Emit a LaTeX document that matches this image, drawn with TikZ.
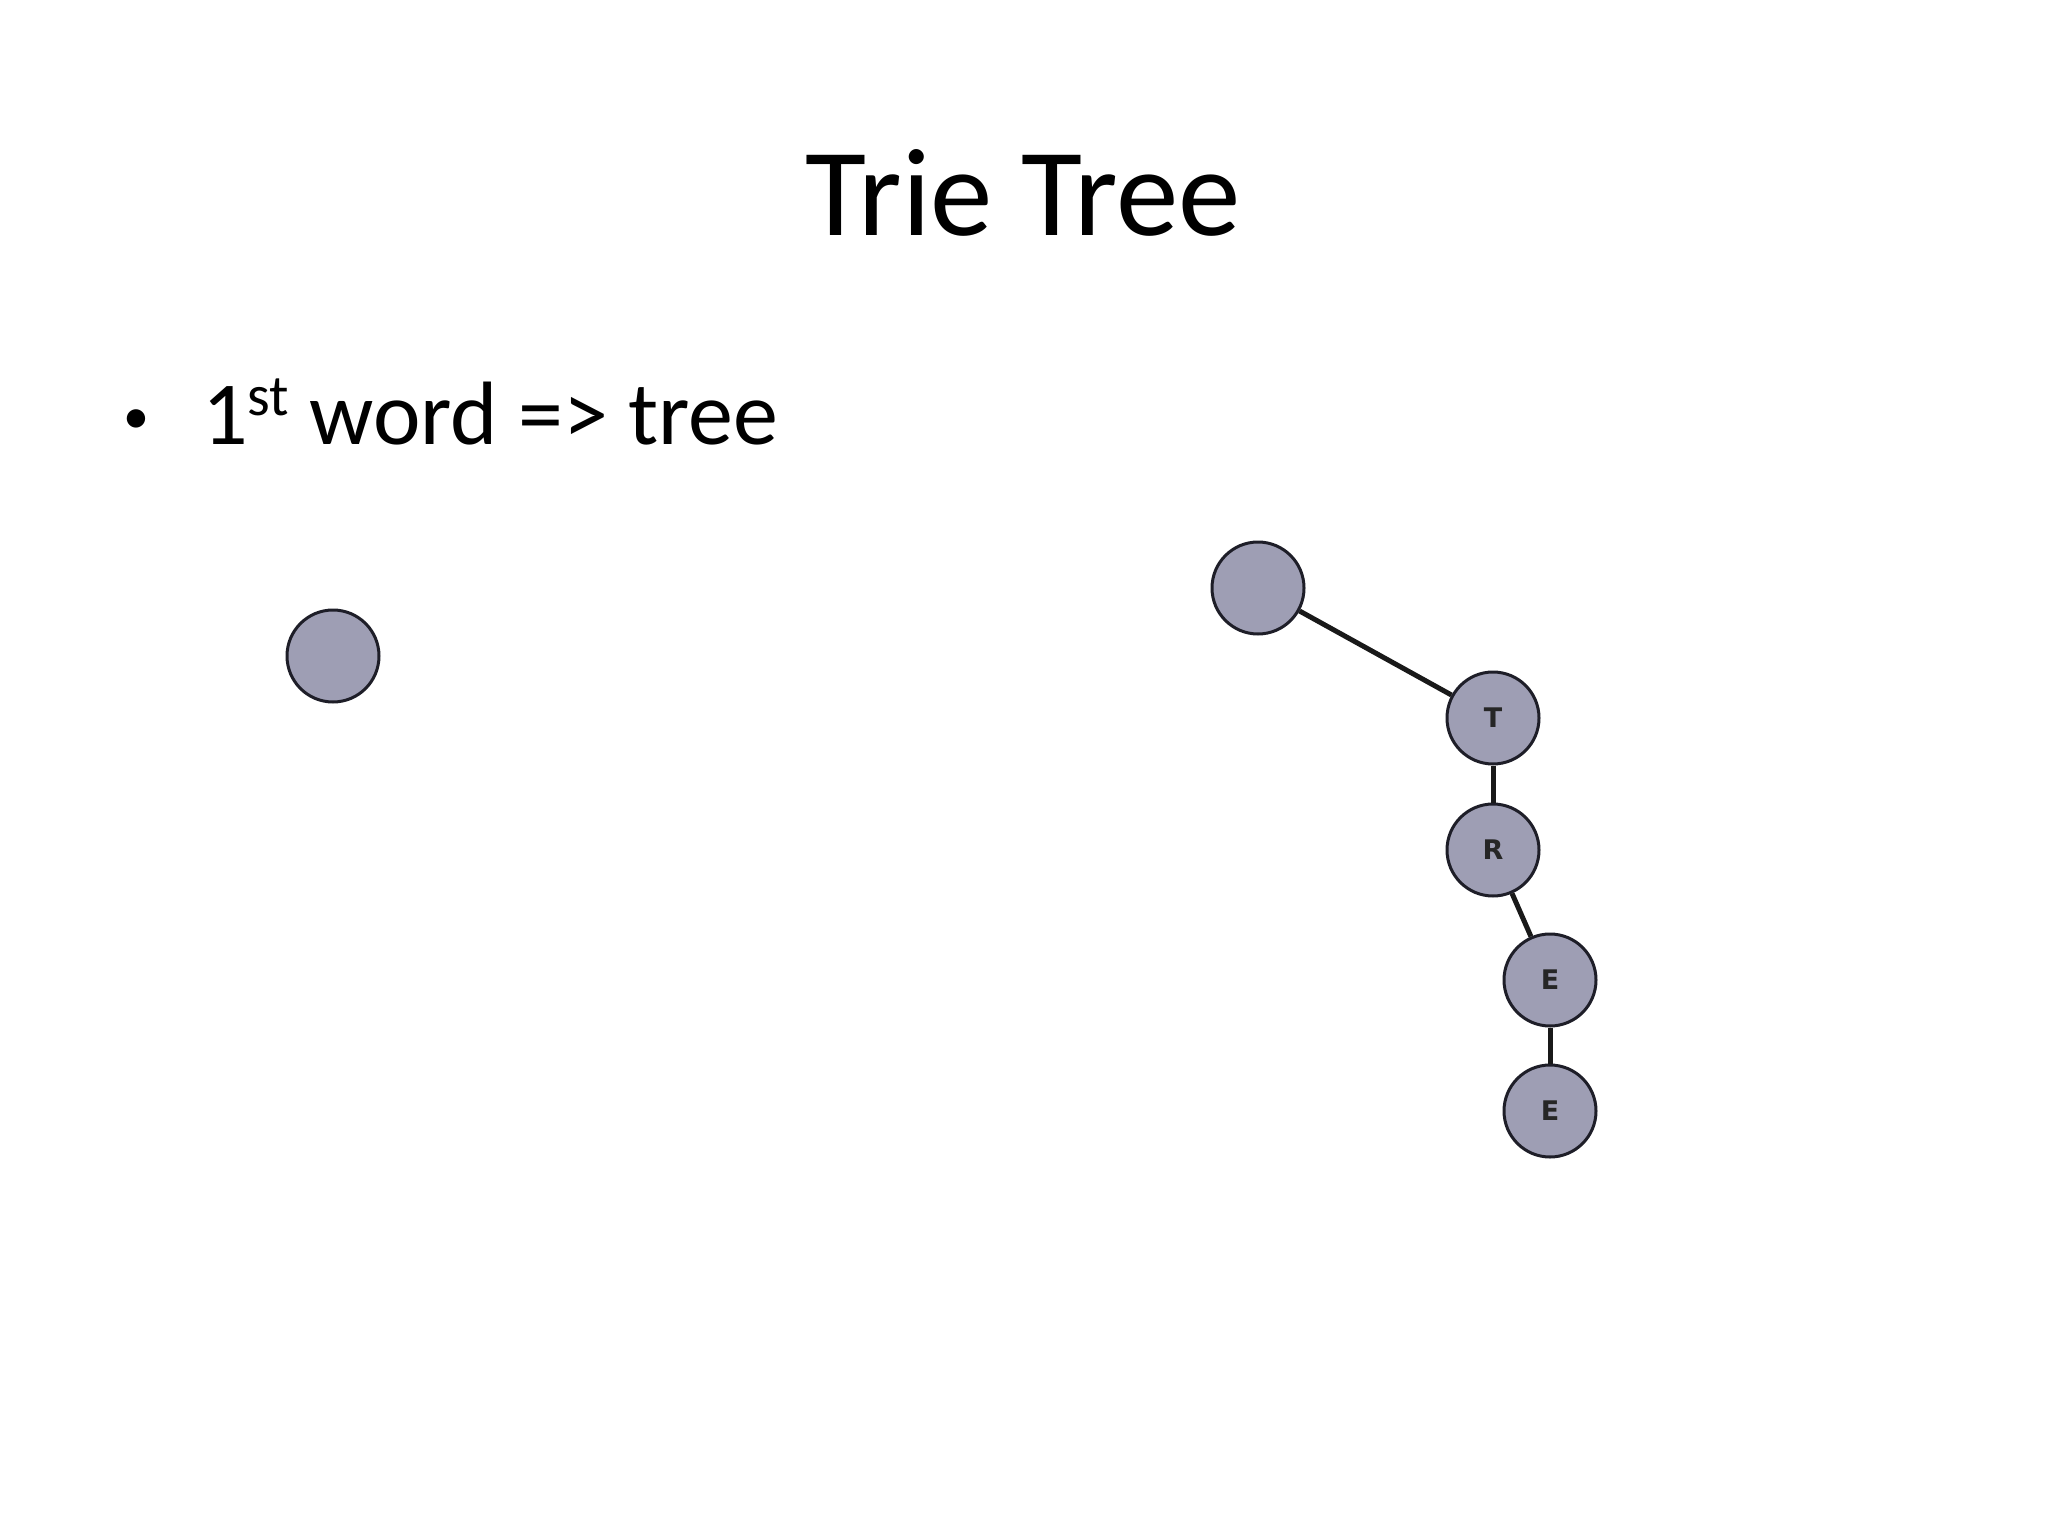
\documentclass[tikz,border=0pt]{standalone}
\usepackage{fontspec}
\setmainfont{Carlito}
\newfontfamily\nodefont{DejaVu Sans}
\definecolor{nodefill}{RGB}{158,158,180}
\definecolor{nodeline}{RGB}{30,30,40}
\begin{document}
\begin{tikzpicture}[x=1pt,y=-1pt,
  trienode/.style={circle, draw=nodeline, line width=3pt, fill=nodefill, minimum size=92pt, inner sep=0pt,
    font=\nodefont\bfseries\fontsize{27}{27}\selectfont, text=black!85},
  edge/.style={line width=5pt, draw=black!90}]
\useasboundingbox[fill=white] (0,0) rectangle (2048,1536);
\node[anchor=base, font=\fontsize{125}{150}\selectfont] (title) at (1023,235) {Trie Tree};
\node[anchor=base west, inner sep=0pt, font=\fontsize{52}{60}\selectfont] (bullet) at (123,433) {\textbullet};
\node[anchor=base west, inner sep=0pt, font=\fontsize{90}{100}\selectfont] (line1) at (202,444) {1\raisebox{29pt}{\fontsize{58}{58}\selectfont st} word => tree};
\node[trienode] (lone) at (333,656) {};
\node[trienode] (root) at (1258,588) {};
\node[trienode] (t) at (1493,718) {T};
\node[trienode] (r) at (1493,850) {R};
\node[trienode] (e1) at (1550,980) {E};
\node[trienode] (e2) at (1550,1111) {E};
\draw[edge] (root) -- (t);
\draw[edge] (t) -- (r);
\draw[edge] (r) -- (e1);
\draw[edge] (e1) -- (e2);
\end{tikzpicture}
\end{document}
